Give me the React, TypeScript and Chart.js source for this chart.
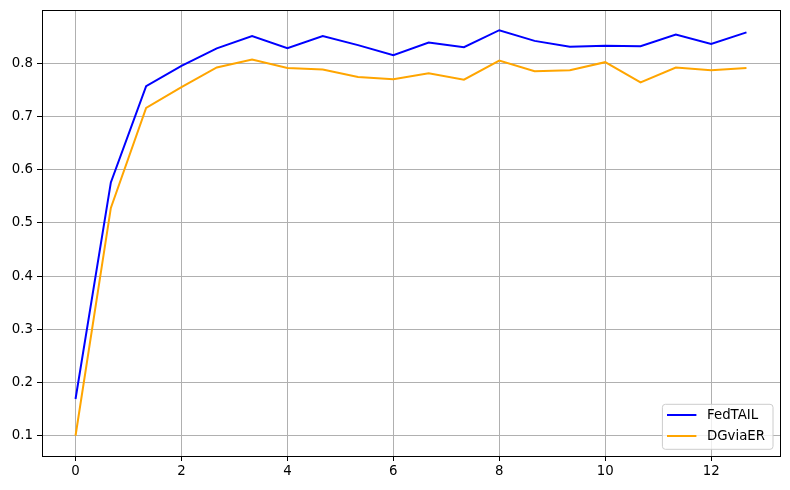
import React, { useEffect, useRef } from "react";
import { Chart, registerables } from "chart.js";

Chart.register(...registerables);

const xValues = [0, 0.667, 1.333, 2, 2.667, 3.333, 4, 4.667, 5.333, 6, 6.667, 7.333, 8, 8.667, 9.333, 10, 10.667, 11.333, 12, 12.667];
const fedtail = [0.169, 0.576, 0.757, 0.795, 0.828, 0.851, 0.828, 0.851, 0.834, 0.815, 0.839, 0.83, 0.862, 0.842, 0.831, 0.833, 0.832, 0.854, 0.836, 0.858];
const dgviaer = [0.1, 0.528, 0.716, 0.755, 0.792, 0.807, 0.791, 0.788, 0.774, 0.77, 0.781, 0.769, 0.805, 0.785, 0.787, 0.802, 0.764, 0.792, 0.787, 0.791];
const xTicks = [0, 2, 4, 6, 8, 10, 12];
const yTicks = [0.1, 0.2, 0.3, 0.4, 0.5, 0.6, 0.7, 0.8];
const seriesNames = ["FedTAIL", "DGviaER"];
const seriesColors = ["#0000ff", "#ffa500"];

const FONT = "'DejaVu Sans', sans-serif";
const FS = 13.33;

const framePlugin = {
  id: "frameLegend",
  afterDraw(chart: any) {
    const ctx = chart.ctx as CanvasRenderingContext2D;
    const ca = chart.chartArea;
    ctx.save();
    ctx.strokeStyle = "#000";
    ctx.lineWidth = 1;
    const l = Math.round(ca.left), t = Math.round(ca.top), r0 = Math.round(ca.right), b = Math.round(ca.bottom);
    ctx.strokeRect(l + 0.5, t + 0.5, r0 - l, b - t);

    ctx.font = `${FS}px ${FONT}`;
    const tw = Math.max(...seriesNames.map((n) => ctx.measureText(n).width));
    const w = Math.max(44.6 + tw + 5.3, 110.6);
    const h = 45;
    const right = ca.right - 7;
    const bottom = ca.bottom - 6.7;
    const left = right - w;
    const top = bottom - h;
    const r = 3;
    ctx.beginPath();
    ctx.moveTo(left + r, top);
    ctx.lineTo(right - r, top);
    ctx.arcTo(right, top, right, top + r, r);
    ctx.lineTo(right, bottom - r);
    ctx.arcTo(right, bottom, right - r, bottom, r);
    ctx.lineTo(left + r, bottom);
    ctx.arcTo(left, bottom, left, bottom - r, r);
    ctx.lineTo(left, top + r);
    ctx.arcTo(left, top, left + r, top, r);
    ctx.closePath();
    ctx.fillStyle = "rgba(255,255,255,0.8)";
    ctx.fill();
    ctx.strokeStyle = "#cccccc";
    ctx.lineWidth = 1;
    ctx.stroke();

    seriesNames.forEach((name, i) => {
      const y = top + 10.7 + i * 21;
      ctx.beginPath();
      ctx.moveTo(left + 4.6, y);
      ctx.lineTo(left + 34, y);
      ctx.strokeStyle = seriesColors[i];
      ctx.lineWidth = 2;
      ctx.stroke();
      ctx.fillStyle = "#000";
      ctx.textBaseline = "middle";
      ctx.textAlign = "left";
      ctx.fillText(name, left + 44.6, y + 0.5);
    });
    ctx.restore();
  },
};

export default function App() {
  const ref = useRef<HTMLCanvasElement | null>(null);
  useEffect(() => {
    document.body.style.margin = "0";
    const canvas = ref.current;
    if (!canvas) return;
    const mk = (vals: number[]) => vals.map((v, i) => ({ x: xValues[i], y: v }));
    const chart = new Chart(canvas, {
      type: "line",
      data: {
        datasets: [
          { label: seriesNames[0], data: mk(fedtail), borderColor: seriesColors[0], borderWidth: 2, pointRadius: 0, tension: 0, fill: false },
          { label: seriesNames[1], data: mk(dgviaer), borderColor: seriesColors[1], borderWidth: 2, pointRadius: 0, tension: 0, fill: false },
        ],
      },
      options: {
        animation: false,
        responsive: false,
        devicePixelRatio: 1,
        layout: { padding: { top: 10, right: 10, left: 0, bottom: 0 } },
        plugins: { legend: { display: false }, tooltip: { enabled: false } },
        scales: {
          x: {
            type: "linear",
            min: -0.633,
            max: 13.3,
            afterBuildTicks: (s: any) => { s.ticks = xTicks.map((v) => ({ value: v })); },
            afterFit: (s: any) => { s.height = 34; s.paddingLeft = 0; s.paddingRight = 0; },
            grid: { color: "#b0b0b0", lineWidth: 1, tickLength: 5, tickColor: "#000", tickWidth: 1 },
            border: { display: false },
            ticks: { color: "#000", font: { family: FONT, size: FS }, padding: 3, maxRotation: 0, callback: (v: any) => String(v) },
          },
          y: {
            type: "linear",
            min: 0.0619,
            max: 0.9,
            afterBuildTicks: (s: any) => { s.ticks = yTicks.map((v) => ({ value: v })); },
            afterFit: (s: any) => { s.width = 42; s.paddingTop = 0; s.paddingBottom = 0; },
            grid: { color: "#b0b0b0", lineWidth: 1, tickLength: 5, tickColor: "#000", tickWidth: 1 },
            border: { display: false },
            ticks: { color: "#000", font: { family: FONT, size: FS }, padding: 4, callback: (v: any) => Number(v).toFixed(1) },
          },
        },
      },
      plugins: [framePlugin],
    });
    return () => chart.destroy();
  }, []);
  return <canvas ref={ref} width={790} height={490} style={{ display: "block" }} />;
}
